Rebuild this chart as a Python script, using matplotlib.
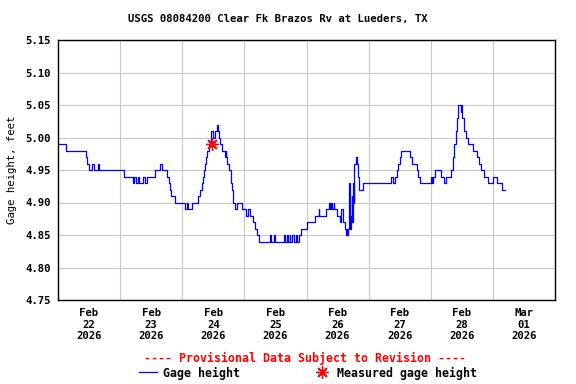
import matplotlib
matplotlib.use("Agg")
from matplotlib import pyplot
from matplotlib.lines import Line2D

# Gage height readings, hours since Feb 22 2026 00:00 (value holds until next change)
hours = [
    0, 3.25, 11.0, 11.25, 12.0, 13.25, 13.75, 15.5, 16.0, 25.5,
    29.0, 29.5, 30.0, 30.75, 31.25, 33.0, 33.5, 34.25, 37.5, 39.5,
    40.0, 42.0, 42.75, 43.25, 43.75, 45.25, 49.25, 50.0, 50.25, 51.75,
    54.0, 55.0, 55.5, 56.0, 56.5, 56.75, 57.0, 57.5, 58.25, 59.0,
    60.0, 60.75, 61.5, 61.75, 62.25, 62.75, 63.5, 64.5, 64.75, 65.0,
    65.25, 66.0, 66.75, 67.25, 67.5, 67.75, 68.25, 69.0, 71.0, 72.75,
    73.25, 74.25, 75.25, 76.0, 77.0, 77.75, 82.0, 82.25, 83.5, 83.75,
    87.25, 87.75, 88.5, 88.75, 89.5, 89.75, 90.5, 91.0, 92.0, 92.25,
    93.0, 94.0, 96.25, 99.25, 100.75, 101.0, 103.5, 104.75, 105.0, 105.5,
    105.75, 106.5, 106.75, 107.75, 109.0, 109.5, 110.0, 111.0, 111.25, 111.5,
    111.75, 112.0, 112.5, 112.75, 113.25, 113.5, 113.75, 114.0, 114.25, 114.5,
    115.0, 115.5, 115.75, 116.0, 116.25, 118.0, 128.75, 129.5, 130.25, 131.0,
    131.5, 132.25, 132.5, 136.0, 136.75, 137.75, 138.5, 139.0, 139.75, 144.25,
    144.5, 145.0, 145.75, 148.0, 149.25, 150.0, 152.0, 152.5, 153.0, 153.75,
    154.25, 154.5, 155.5, 155.75, 156.25, 156.75, 157.0, 157.5, 158.25, 160.5,
    162.0, 162.5, 163.25, 164.5, 166.25, 168.0, 169.75, 171.5, 172.5,
]
gage_height = [
    4.99, 4.98, 4.97, 4.96, 4.95, 4.96, 4.95, 4.96, 4.95, 4.94,
    4.93, 4.94, 4.93, 4.94, 4.93, 4.94, 4.93, 4.94, 4.95, 4.96,
    4.95, 4.94, 4.93, 4.92, 4.91, 4.90, 4.89, 4.90, 4.89, 4.90,
    4.91, 4.92, 4.93, 4.94, 4.95, 4.96, 4.97, 4.98, 4.99, 5.01,
    5.00, 5.01, 5.02, 5.01, 5.00, 4.99, 4.98, 4.97, 4.98, 4.97,
    4.96, 4.95, 4.93, 4.92, 4.91, 4.90, 4.89, 4.90, 4.89, 4.88,
    4.89, 4.88, 4.87, 4.86, 4.85, 4.84, 4.85, 4.84, 4.85, 4.84,
    4.85, 4.84, 4.85, 4.84, 4.85, 4.84, 4.85, 4.84, 4.85, 4.84,
    4.85, 4.86, 4.87, 4.88, 4.89, 4.88, 4.89, 4.90, 4.89, 4.90,
    4.89, 4.90, 4.89, 4.88, 4.87, 4.89, 4.87, 4.86, 4.85, 4.86,
    4.85, 4.86, 4.93, 4.86, 4.88, 4.91, 4.87, 4.93, 4.90, 4.96,
    4.97, 4.96, 4.95, 4.94, 4.92, 4.93, 4.94, 4.93, 4.94, 4.95,
    4.96, 4.97, 4.98, 4.97, 4.96, 4.96, 4.95, 4.94, 4.93, 4.94,
    4.93, 4.94, 4.95, 4.94, 4.93, 4.94, 4.95, 4.97, 4.99, 5.01,
    5.03, 5.05, 5.04, 5.05, 5.03, 5.02, 5.01, 5.00, 4.99, 4.98,
    4.97, 4.96, 4.95, 4.94, 4.93, 4.94, 4.93, 4.92, 4.92,
]

# Field measurement
measured_hours = [59.4]
measured_height = [4.99]

y_ticks = [4.75, 4.80, 4.85, 4.90, 4.95, 5.00, 5.05, 5.10, 5.15]
day_labels = ["Feb\n22\n2026", "Feb\n23\n2026", "Feb\n24\n2026", "Feb\n25\n2026",
              "Feb\n26\n2026", "Feb\n27\n2026", "Feb\n28\n2026", "Mar\n01\n2026"]


def main() -> None:
    pyplot.rcParams["font.family"] = "DejaVu Sans Mono"
    pyplot.rcParams["font.weight"] = "bold"

    figure = pyplot.figure(figsize=(5.76, 3.84), dpi=100)
    axes = figure.add_axes([58 / 576, 1 - 300 / 384, 497 / 576, 260 / 384])

    axes.plot(hours, gage_height, drawstyle="steps-post", color="#0000ff", linewidth=0.9)
    axes.plot(measured_hours, measured_height, linestyle="none", marker=(8, 2, 0),
              markersize=9, markeredgewidth=1.0, color="#ff0000")

    axes.set_xlim(0, 192)
    axes.set_ylim(4.75, 5.15)

    # gridlines at midnight, day labels at noon
    axes.set_xticks([24 * d for d in range(1, 8)])
    axes.set_xticklabels([])
    axes.set_xticks([24 * d + 12 for d in range(8)], minor=True)
    axes.set_xticklabels(day_labels, minor=True, fontsize=7.7, linespacing=1.15)
    axes.set_yticks(y_ticks)
    axes.set_yticklabels([f"{v:.2f}" for v in y_ticks], fontsize=7.7)
    axes.tick_params(axis="both", which="both", length=0)
    axes.tick_params(axis="x", which="minor", pad=6)
    axes.tick_params(axis="y", pad=5)
    axes.grid(True, which="major", color="#c8c8c8", linewidth=0.8)
    axes.set_axisbelow(True)
    for spine in axes.spines.values():
        spine.set_color("black")
        spine.set_linewidth(1.0)

    axes.set_ylabel("Gage height, feet", fontsize=7.7)
    axes.yaxis.set_label_coords(-0.082, 0.5)

    figure.text(277.5 / 576, 1 - 19 / 384, "USGS 08084200 Clear Fk Brazos Rv at Lueders, TX",
                ha="center", va="center", fontsize=7.7)
    figure.text(305 / 576, 1 - 358 / 384, "---- Provisional Data Subject to Revision ----",
                ha="center", va="center", fontsize=8.4, color="#ff0000")

    handles = [
        Line2D([], [], color="#0000ff", linewidth=0.9),
        Line2D([], [], linestyle="none", marker=(8, 2, 0), markersize=9,
               markeredgewidth=1.0, color="#ff0000"),
    ]
    figure.legend(handles, ["Gage height", "Measured gage height"], ncol=2,
                  loc="center", bbox_to_anchor=(308 / 576, 1 - 373 / 384),
                  frameon=False, fontsize=8.4, handlelength=1.55, handletextpad=0.55,
                  columnspacing=6.2, borderpad=0.0)

    figure.savefig("out.png", dpi=100)


if __name__ == "__main__":
    main()
